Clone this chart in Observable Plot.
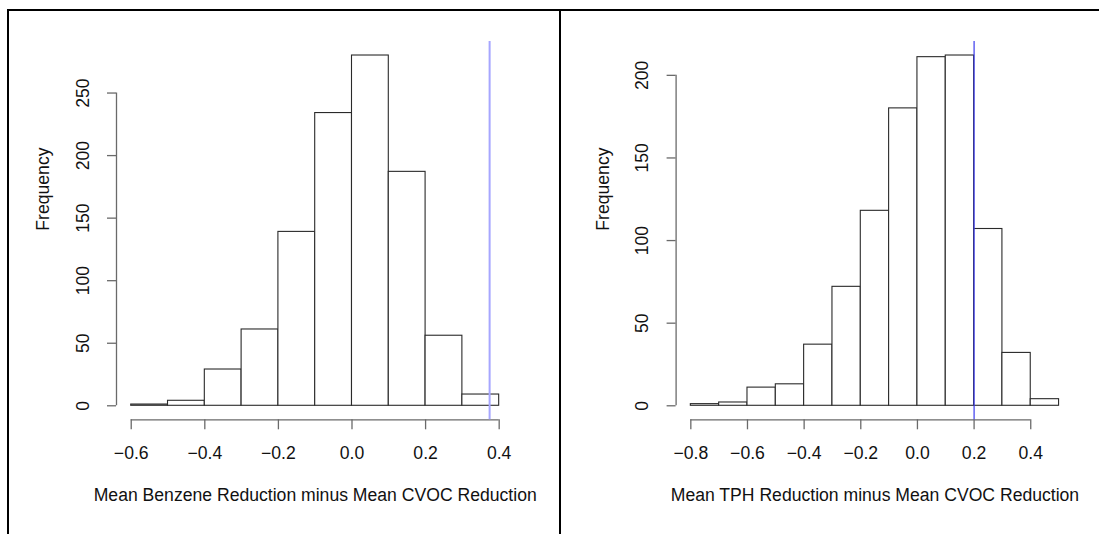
<!DOCTYPE html>
<html>
<head>
<meta charset="utf-8">
<script src="https://cdn.jsdelivr.net/npm/d3@7"></script>
<script src="https://cdn.jsdelivr.net/npm/@observablehq/plot@0.6"></script>
<style>
  html, body { margin: 0; padding: 0; background: #fff; width: 1099px; height: 534px; overflow: hidden; }
  #wrap { position: relative; width: 1099px; height: 534px; font-family: "Liberation Sans", Arial, sans-serif; }
  .panel { position: absolute; top: 0; }
  .frame-top { position: absolute; left: 7px; top: 9px; width: 1092px; height: 0; border-top: 2px solid #000; }
  .frame-left { position: absolute; left: 7px; top: 9px; width: 0; height: 525px; border-left: 2px solid #000; }
  .frame-mid { position: absolute; left: 559px; top: 9px; width: 0; height: 525px; border-left: 2px solid #000; }
</style>
</head>
<body>
<div id="wrap">
  <div class="panel" id="left"></div>
  <div class="panel" id="right"></div>
  <div class="frame-top"></div>
  <div class="frame-left"></div>
  <div class="frame-mid"></div>
</div>
<script>
// ---- Data: Benzene panel ----
const benzeneEdges = [-0.6, -0.5, -0.4, -0.3, -0.2, -0.1, 0.0, 0.1, 0.2, 0.3, 0.4];
const benzeneCounts = [1, 4, 29, 61, 139, 234, 280, 187, 56, 9];
const benzeneXTicks = [-0.6, -0.4, -0.2, 0.0, 0.2, 0.4];
const benzeneYTicks = [0, 50, 100, 150, 200, 250];
const benzeneObserved = 0.374;
const benzeneTitle = "Mean Benzene Reduction minus Mean CVOC Reduction";

// ---- Data: TPH panel ----
const tphEdges = [-0.8, -0.7, -0.6, -0.5, -0.4, -0.3, -0.2, -0.1, 0.0, 0.1, 0.2, 0.3, 0.4, 0.5];
const tphCounts = [1, 2, 11, 13, 37, 72, 118, 180, 211, 212, 107, 32, 4];
const tphXTicks = [-0.8, -0.6, -0.4, -0.2, 0.0, 0.2, 0.4];
const tphYTicks = [0, 50, 100, 150, 200];
const tphObserved = 0.2;
const tphTitle = "Mean TPH Reduction minus Mean CVOC Reduction";

const yLabel = "Frequency";

function histPanel({edges, counts, xTicks, yTicks, observed, title, width, marginLeft, marginRight, refColor, refWidth}) {
  const bins = counts.map((c, i) => ({x1: edges[i], x2: edges[i + 1], y: c}));
  // R-style 4% axis expansion
  const xr = edges[edges.length - 1] - edges[0];
  const ymax = d3.max(counts);
  const xDomain = [edges[0] - 0.04 * xr, edges[edges.length - 1] + 0.04 * xr];
  const yDomain = [-0.04 * ymax, ymax * 1.04];
  const fmt = d3.format(".1f");
  return Plot.plot({
    width,
    height: 534,
    marginTop: 41,
    marginBottom: 114.7,
    marginLeft,
    marginRight,
    style: {fontFamily: "'Liberation Sans', Arial, sans-serif", fontSize: "17.6px", color: "#111", background: "transparent"},
    x: {domain: xDomain, axis: null},
    y: {domain: yDomain, axis: null},
    marks: [
      Plot.rect(bins, {x1: "x1", x2: "x2", y1: 0, y2: "y", fill: "white", stroke: "#2a2a2a", strokeWidth: 1.1}),
      // x axis (R style: line from first to last tick)
      Plot.ruleY([yDomain[0]], {x1: xTicks[0], x2: xTicks[xTicks.length - 1], stroke: "#6a6a6a", strokeWidth: 1.3}),
      Plot.axisX({ticks: xTicks, tickSize: 10, tickPadding: 17, tickFormat: fmt, label: null, stroke: "#6a6a6a", strokeWidth: 1.3}),
      // y axis
      Plot.ruleX([xDomain[0]], {y1: yTicks[0], y2: yTicks[yTicks.length - 1], stroke: "#6a6a6a", strokeWidth: 1.3}),
      Plot.axisY({ticks: yTicks, tickSize: 9, tickRotate: -90, tickPadding: 19, label: null, stroke: "#6a6a6a", strokeWidth: 1.3}),
      // axis titles
      Plot.text([yLabel], {frameAnchor: "left", rotate: -90, dx: -73, fill: "#111"}),
      Plot.text([title], {frameAnchor: "bottom", dy: 81, fill: "#111"}),
      // observed difference
      Plot.ruleX([observed], {stroke: refColor, strokeWidth: refWidth})
    ]
  });
}

const left = histPanel({
  edges: benzeneEdges, counts: benzeneCounts, xTicks: benzeneXTicks, yTicks: benzeneYTicks,
  observed: benzeneObserved, title: benzeneTitle,
  width: 560, marginLeft: 116, marginRight: 46.6, refColor: "#a6a6ff", refWidth: 2
});
document.getElementById("left").appendChild(left);

const right = histPanel({
  edges: tphEdges, counts: tphCounts, xTicks: tphXTicks, yTicks: tphYTicks,
  observed: tphObserved, title: tphTitle,
  width: 539, marginLeft: 115.6, marginRight: 25.7, refColor: "#3a3aee", refWidth: 1.2
});
document.getElementById("right").style.left = "560px";
document.getElementById("right").appendChild(right);
</script>
</body>
</html>
